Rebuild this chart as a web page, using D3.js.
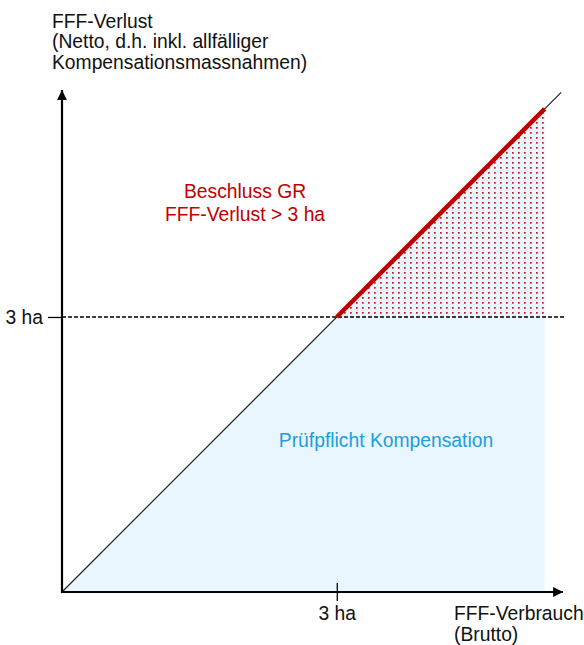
<!DOCTYPE html>
<html>
<head>
<meta charset="utf-8">
<script src="https://cdn.jsdelivr.net/npm/d3@7"></script>
<style>
  html, body { margin: 0; padding: 0; background: #fff; }
  svg { display: block; font-family: "Liberation Sans", Arial, sans-serif; }
</style>
</head>
<body>
<svg id="chart" width="584" height="645"></svg>
<script>
// ── Data (hectares) ──
const threshold = 3;
const tickValues = [3];
const tickLabels = ['3 ha'];
const diagonal = [[0, 0], [5.45, 5.45]];          // Brutto = Netto line
const redSegment = [[3, 3], [5.27, 5.27]];        // Beschluss GR segment
const fillEnd = 5.27;                              // right edge of shaded areas
const axisMaxX = 5.47, axisMaxY = 5.476;
const yTitle = ['FFF-Verlust', '(Netto, d.h. inkl. allfälliger', 'Kompensationsmassnahmen)'];
const xTitle = ['FFF-Verbrauch', '(Brutto)'];
const redLabel = ['Beschluss GR', 'FFF-Verlust > 3 ha'];
const blueLabel = 'Prüfpflicht Kompensation';

const FS = 19.3;
const svg = d3.select('#chart');
const x = d3.scaleLinear().domain([0, axisMaxX]).range([62, 563]);
const y = d3.scaleLinear().domain([0, axisMaxY]).range([592, 90]);

// ── Defs: dotted pattern + arrow heads ──
const defs = svg.append('defs');
const pat = defs.append('pattern').attr('id', 'dots')
  .attr('patternUnits', 'userSpaceOnUse').attr('width', 6).attr('height', 5);
pat.append('rect').attr('width', 6).attr('height', 5).attr('fill', '#eaf6fd');
pat.append('rect').attr('x', 2).attr('y', 2).attr('width', 1.7).attr('height', 1.7).attr('fill', '#cc1020');

defs.append('marker').attr('id', 'arrow')
  .attr('viewBox', '0 0 10 10').attr('refX', 10).attr('refY', 5)
  .attr('markerWidth', 5).attr('markerHeight', 4.5).attr('orient', 'auto')
  .attr('markerUnits', 'strokeWidth')
  .append('path').attr('d', 'M0,0 L10,5 L0,10 Z').attr('fill', '#000');

// ── Shaded areas ──
const line = d3.line().x(d => x(d[0])).y(d => y(d[1]));
svg.append('path')
  .attr('d', line([[0, 0], [fillEnd, fillEnd], [fillEnd, 0]]) + 'Z')
  .attr('fill', '#eaf6fd');
svg.append('path')
  .attr('d', line([[threshold, threshold], [fillEnd, fillEnd], [fillEnd, threshold]]) + 'Z')
  .attr('fill', 'url(#dots)');

// ── Threshold dashed line ──
svg.append('line')
  .attr('x1', x(0)).attr('x2', 565)
  .attr('y1', y(threshold)).attr('y2', y(threshold))
  .attr('stroke', '#000').attr('stroke-width', 1.4).attr('stroke-dasharray', '4,2');

// ── Diagonal + red segment ──
svg.append('path').attr('d', line(diagonal))
  .attr('stroke', '#222').attr('stroke-width', 1.2).attr('fill', 'none');
svg.append('path').attr('d', line(redSegment))
  .attr('stroke', '#c00000').attr('stroke-width', 4.5).attr('fill', 'none');

// ── Axes ──
const xAxis = svg.append('g').attr('transform', `translate(0,${y(0)})`)
  .call(d3.axisBottom(x).tickValues(tickValues).tickFormat((d, i) => tickLabels[i]).tickSize(9).tickPadding(5));
xAxis.select('.domain').remove();
xAxis.selectAll('line').attr('y1', -9).attr('stroke', '#000').attr('stroke-width', 1.3);
xAxis.selectAll('text').attr('font-size', FS).attr('fill', '#111').attr('font-family', null);

const yAxis = svg.append('g').attr('transform', `translate(${x(0)},0)`)
  .call(d3.axisLeft(y).tickValues(tickValues).tickFormat((d, i) => tickLabels[i]).tickSize(14).tickPadding(5));
yAxis.select('.domain').remove();
yAxis.selectAll('line').attr('stroke', '#000').attr('stroke-width', 1.3);
yAxis.selectAll('text').attr('font-size', FS).attr('fill', '#111').attr('font-family', null);

svg.append('line')
  .attr('x1', x(0) - 1).attr('y1', y(0)).attr('x2', x(axisMaxX)).attr('y2', y(0))
  .attr('stroke', '#000').attr('stroke-width', 2.2).attr('marker-end', 'url(#arrow)');
svg.append('line')
  .attr('x1', x(0)).attr('y1', y(0) + 1).attr('x2', x(0)).attr('y2', y(axisMaxY))
  .attr('stroke', '#000').attr('stroke-width', 2.2).attr('marker-end', 'url(#arrow)');

// ── Titles ──
svg.append('g').selectAll('text').data(yTitle).enter().append('text')
  .attr('x', 52).attr('y', (d, i) => [28, 48, 69][i])
  .attr('font-size', FS).attr('fill', '#111').text(d => d);

svg.append('g').selectAll('text').data(xTitle).enter().append('text')
  .attr('x', 454).attr('y', (d, i) => 620 + i * 21)
  .attr('font-size', FS).attr('fill', '#111').text(d => d);

// ── Region labels ──
svg.append('g').selectAll('text').data(redLabel).enter().append('text')
  .attr('x', 245).attr('y', (d, i) => 198 + i * 23)
  .attr('text-anchor', 'middle').attr('font-size', FS).attr('fill', '#c00000').text(d => d);

svg.append('text')
  .attr('x', 386).attr('y', 447)
  .attr('text-anchor', 'middle').attr('font-size', FS).attr('fill', '#1a9de2').text(blueLabel);
</script>
</body>
</html>
